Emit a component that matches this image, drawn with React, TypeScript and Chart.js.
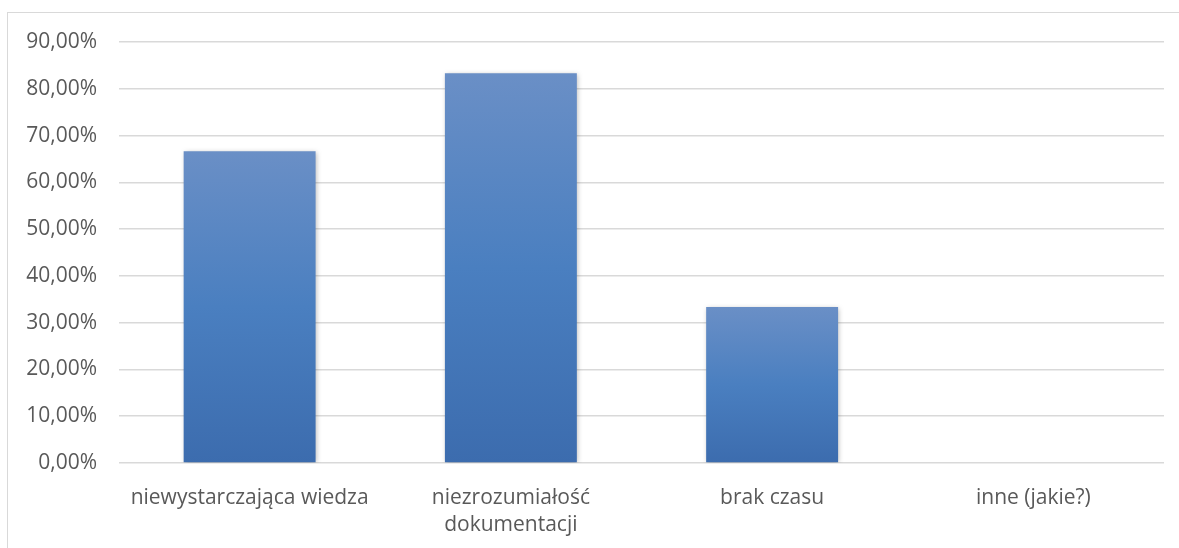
import React, { useEffect, useRef } from "react";
import { Chart, registerables } from "chart.js";

Chart.register(...registerables);

const categories: (string | string[])[] = [
  "niewystarczająca wiedza",
  ["niezrozumiałość", "dokumentacji"],
  "brak czasu",
  "inne (jakie?)",
];
const values: number[] = [66.67, 83.33, 33.33, 0];
const yMin = 0;
const yMax = 90;
const yStep = 10;

const FONT = "'Open Sans', 'Noto Sans', sans-serif";
const TEXT = "#595959";
const GRID = "#d9d9d9";

const shadowPlugin = {
  id: "barShadow",
  beforeDatasetsDraw(chart: any) {
    const ctx = chart.ctx;
    ctx.save();
    ctx.shadowColor = "rgba(0,0,0,0.28)";
    ctx.shadowBlur = 5;
    ctx.shadowOffsetX = 1;
    ctx.shadowOffsetY = 1;
  },
  afterDatasetsDraw(chart: any) {
    chart.ctx.restore();
  },
};

export default function App() {
  const ref = useRef<HTMLCanvasElement | null>(null);
  useEffect(() => {
    document.body.style.margin = "0";
    const canvas = ref.current!;
    const chart = new Chart(canvas, {
      type: "bar",
      data: {
        labels: categories,
        datasets: [
          {
            data: values,
            barPercentage: 0.505,
            categoryPercentage: 1,
            backgroundColor: (c: any) => {
              const ch = c.chart;
              const y = ch.scales?.y;
              if (!y || c.parsed == null) return "#4a7fc1";
              const top = y.getPixelForValue(c.parsed.y);
              const bottom = y.getPixelForValue(0);
              if (!isFinite(top) || !isFinite(bottom) || bottom - top < 1) return "#4a7fc1";
              const g = ch.ctx.createLinearGradient(0, top, 0, bottom);
              g.addColorStop(0, "#6a8fc6");
              g.addColorStop(0.5, "#4a7fc0");
              g.addColorStop(1, "#3c6cae");
              return g;
            },
            borderWidth: 0,
          },
        ],
      },
      options: {
        animation: false,
        responsive: false,
        maintainAspectRatio: false,
        layout: { padding: { top: 42, right: 15, left: 0, bottom: 0 } },
        plugins: { legend: { display: false }, tooltip: { enabled: false } },
        scales: {
          x: {
            grid: { display: false },
            border: { display: false },
            ticks: {
              color: TEXT,
              font: { family: FONT, size: 21, lineHeight: 1.3 },
              padding: 13,
              maxRotation: 0,
              autoSkip: false,
            },
            afterFit: (s: any) => {
              s.height = 85;
            },
          },
          y: {
            min: yMin,
            max: yMax,
            grid: { color: GRID, lineWidth: 1.5, drawTicks: false },
            border: { display: false },
            ticks: {
              stepSize: yStep,
              color: TEXT,
              padding: 22,
              font: { family: FONT, size: 21 },
              callback: (v: any) => Number(v).toFixed(2).replace(".", ",") + "%",
            },
            afterFit: (s: any) => {
              s.width = 119;
            },
          },
        },
      },
      plugins: [shadowPlugin],
    });
    return () => chart.destroy();
  }, []);

  return (
    <div style={{ position: "absolute", left: 0, top: 0, width: 1179, height: 548, background: "#fff", overflow: "hidden" }}>
      <div
        style={{
          position: "absolute",
          left: 7,
          top: 12,
          width: 1200,
          height: 600,
          border: "1.5px solid #d9d9d9",
          boxSizing: "border-box",
        }}
      />
      <canvas ref={ref} width={1179} height={548} style={{ position: "absolute", left: 0, top: 0 }} />
    </div>
  );
}
